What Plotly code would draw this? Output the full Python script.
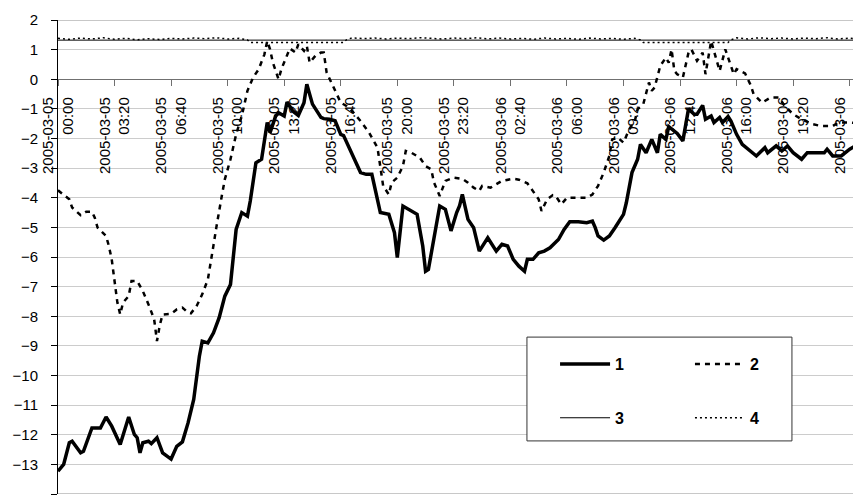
import pandas as pd
import plotly.graph_objects as go

start = pd.Timestamp("2005-03-05 00:00")

# Series 1 (thick solid): minutes from start, values
s1_min = [0,20,40,50,80,90,120,150,170,190,
          220,230,240,250,270,280,290,300,320,330,
          350,370,400,420,440,460,480,490,500,510,
          530,550,570,590,610,630,650,670,680,700,
          720,740,750,770,780,800,810,830,850,870,
          880,900,930,940,960,980,990,1000,1010,1030,
          1040,1070,1090,1110,1140,1170,1190,1200,1220,1240,
          1270,1290,1300,1310,1330,1350,1370,1390,1410,1420,
          1430,1450,1470,1490,1520,1550,1570,1590,1610,1630,
          1650,1660,1680,1700,1720,1740,1770,1790,1810,1840,
          1870,1890,1900,1910,1930,1950,1970,2000,2010,2030,
          2050,2060,2080,2100,2120,2130,2150,2160,2190,2210,
          2230,2250,2260,2280,2290,2310,2320,2340,2350,2370,
          2380,2400,2420,2450,2470,2500,2510,2540,2560,2580,
          2600,2630,2650,2680,2710,2720,2740,2770,2800,2820,
          2840]
s1_val = [-13.23,-13.0,-12.27,-12.22,-12.61,-12.56,-11.77,-11.77,-11.4,-11.71,
          -12.33,-12.05,-11.71,-11.4,-11.99,-12.1,-12.61,-12.27,-12.22,-12.3,
          -12.1,-12.61,-12.82,-12.39,-12.24,-11.6,-10.81,-10.02,-9.35,-8.84,
          -8.9,-8.56,-8.05,-7.32,-6.93,-5.07,-4.5,-4.62,-4.11,-2.82,
          -2.7,-1.46,-1.8,-1.24,-1.13,-1.24,-0.77,-1.07,-1.22,-0.79,
          -0.17,-0.84,-1.29,-1.33,-1.35,-1.4,-1.65,-1.86,-1.9,-2.3,
          -2.5,-3.15,-3.21,-3.21,-4.5,-4.56,-5.18,-6.02,-4.28,-4.39,
          -4.56,-5.63,-6.48,-6.42,-5.41,-4.28,-4.39,-5.12,-4.5,-4.28,
          -3.89,-4.73,-5.01,-5.8,-5.35,-5.8,-5.57,-5.63,-6.08,-6.31,
          -6.48,-6.08,-6.08,-5.86,-5.8,-5.69,-5.41,-5.07,-4.81,-4.81,
          -4.84,-4.79,-5.01,-5.29,-5.43,-5.29,-5.01,-4.56,-4.17,-3.15,
          -2.7,-2.2,-2.48,-2.03,-2.48,-1.86,-2.03,-1.6,-1.83,-2.08,
          -1.0,-1.18,-1.18,-0.88,-1.35,-1.24,-1.46,-1.29,-1.46,-1.26,
          -1.41,-1.86,-2.2,-2.42,-2.59,-2.31,-2.48,-2.25,-2.42,-2.25,
          -2.48,-2.7,-2.48,-2.48,-2.48,-2.36,-2.59,-2.59,-2.36,-2.25,
          -2.3]

# Series 2 (dashed)
s2_min = [0,20,40,50,80,100,120,130,140,170,
          180,190,200,210,220,230,250,260,280,300,
          320,340,350,360,370,400,420,440,460,470,
          490,510,530,540,550,560,570,580,590,610,
          630,650,670,690,710,730,740,750,760,780,
          790,810,820,840,850,870,880,890,910,930,
          940,950,970,980,1000,1020,1040,1070,1100,1130,
          1140,1150,1170,1180,1200,1220,1230,1250,1280,1300,
          1320,1330,1350,1370,1400,1430,1450,1470,1490,1500,
          1530,1550,1570,1610,1630,1660,1680,1700,1710,1730,
          1750,1760,1780,1800,1830,1870,1890,1910,1930,1950,
          1960,1980,2000,2020,2040,2050,2070,2090,2100,2110,
          2130,2150,2160,2170,2180,2190,2210,2230,2240,2260,
          2280,2290,2310,2340,2360,2390,2400,2430,2450,2460,
          2490,2520,2550,2570,2600,2630,2670,2700,2740,2760,
          2800,2840]
s2_val = [-3.75,-3.9,-4.05,-4.33,-4.59,-4.47,-4.47,-4.67,-5.01,-5.29,
          -5.63,-6.08,-6.76,-7.54,-7.94,-7.54,-7.32,-6.81,-6.81,-7.15,
          -7.6,-8.1,-8.84,-8.3,-7.94,-7.92,-7.77,-7.71,-7.88,-7.9,
          -7.66,-7.26,-6.76,-6.1,-5.6,-5.0,-4.4,-3.9,-3.38,-2.7,
          -1.86,-1.24,-0.39,0.06,0.34,0.84,1.29,1.01,0.56,0.0,
          0.34,0.79,1.04,0.9,1.18,0.96,1.13,0.56,0.79,0.9,
          0.9,0.23,-0.17,-0.39,-0.79,-0.9,-1.07,-1.41,-1.8,-2.31,
          -2.93,-3.6,-3.89,-3.49,-3.32,-2.93,-2.42,-2.48,-2.65,-2.93,
          -3.04,-3.49,-3.94,-3.43,-3.32,-3.36,-3.49,-3.66,-3.77,-3.6,
          -3.66,-3.55,-3.43,-3.36,-3.39,-3.51,-3.77,-4.05,-4.45,-4.05,
          -3.91,-3.94,-4.22,-4.0,-4.0,-4.0,-3.89,-3.6,-3.15,-2.59,
          -2.03,-1.97,-2.14,-1.69,-1.41,-1.01,-0.84,-0.11,-0.39,-0.28,
          0.45,0.73,0.56,1.01,0.28,0.17,0.06,0.9,1.01,0.62,
          0.9,0.17,1.29,0.28,1.01,0.17,0.34,0.2,-0.2,-0.5,
          -0.79,-0.62,-0.62,-0.9,-1.18,-1.35,-1.52,-1.58,-1.58,-1.46,
          -1.46,-1.5]

# Series 3 (thin solid)
s3_min = [0, 2840]
s3_val = [1.32, 1.32]

# Series 4 (dotted)
s4_min = [0,40,80,120,160,200,240,280,320,360,400,440,480,520,560,600,640,
          670,680,1010,1020,1040,
          1080,1120,1160,1200,1240,1280,1320,1360,1400,1440,1480,1520,1560,1600,
          1640,1680,1720,1760,1800,1840,1880,1920,1960,2000,2040,
          2060,2070,2370,2380,2400,
          2440,2480,2520,2560,2600,2640,2680,2720,2760,2800,2840]
s4_val = [1.38,1.35,1.39,1.36,1.40,1.35,1.38,1.33,1.37,1.34,1.38,1.36,1.39,1.37,1.40,1.36,1.38,
          1.33,1.24,1.24,1.33,1.40,
          1.37,1.39,1.36,1.39,1.37,1.40,1.38,1.36,1.39,1.37,1.40,1.36,1.39,1.36,
          1.38,1.35,1.39,1.36,1.38,1.35,1.39,1.36,1.38,1.35,1.38,
          1.33,1.24,1.24,1.33,1.40,
          1.36,1.40,1.37,1.39,1.36,1.39,1.37,1.40,1.36,1.39,1.35]

tick_minutes = [0,200,400,600,800,1000,1200,1400,1600,1800,2000,2200,2400,2600,2800]
tick_labels = ["2005-03-05<br>00:00","2005-03-05<br>03:20","2005-03-05<br>06:40",
               "2005-03-05<br>10:00","2005-03-05<br>13:20","2005-03-05<br>16:40",
               "2005-03-05<br>20:00","2005-03-05<br>23:20","2005-03-06<br>02:40",
               "2005-03-06<br>06:00","2005-03-06<br>09:20","2005-03-06<br>12:40",
               "2005-03-06<br>16:00","2005-03-06<br>19:20","2005-03-06<br>22:40"]
series_names = ["1", "2", "3", "4"]

assert len(s1_min) == len(s1_val)
assert len(s2_min) == len(s2_val)
assert len(s4_min) == len(s4_val)


def to_t(mins):
    return [start + pd.Timedelta(minutes=m) for m in mins]


FONT = "Liberation Sans, Arial, sans-serif"
fig = go.Figure()
fig.add_trace(go.Scatter(x=to_t(s3_min), y=s3_val, mode="lines", name=series_names[2],
                         line=dict(color="black", width=1), legend="legend",
                         legendgroup="b", legendrank=2))
fig.add_trace(go.Scatter(x=to_t(s4_min), y=s4_val, mode="lines", name=series_names[3],
                         line=dict(color="black", width=1.5, dash="2px,3px"), legend="legend2",
                         legendgroup="d", legendrank=2))
fig.add_trace(go.Scatter(x=to_t(s2_min), y=s2_val, mode="lines", name=series_names[1],
                         line=dict(color="black", width=2.5, dash="5px,5px"), legend="legend2",
                         legendgroup="c", legendrank=1))
fig.add_trace(go.Scatter(x=to_t(s1_min), y=s1_val, mode="lines", name=series_names[0],
                         line=dict(color="black", width=3.5), legend="legend",
                         legendgroup="a", legendrank=1))

leg_common = dict(bgcolor="rgba(0,0,0,0)", borderwidth=0, traceorder="grouped",
                  tracegroupgap=30, itemwidth=50,
                  font=dict(family=FONT, size=16, color="black", weight="bold"),
                  xanchor="left", yanchor="top")

# the page body has an 8px margin: the figure is sized to fill the remaining window
fig.update_layout(
    width=853, height=489,
    margin=dict(l=50, r=0, t=12, b=3),
    paper_bgcolor="white", plot_bgcolor="white",
    showlegend=True,
    legend=dict(x=0.619, y=0.31, **leg_common),
    legend2=dict(x=0.787, y=0.31, **leg_common),
    xaxis=dict(type="date", range=[start, start + pd.Timedelta(minutes=2840)],
               anchor="free", position=0.875, side="bottom",
               showline=True, linecolor="#707070", linewidth=1,
               ticks="outside", ticklen=6, tickcolor="#707070",
               tickvals=to_t(tick_minutes), ticktext=tick_labels, tickangle=-90,
               tickfont=dict(family=FONT, size=15, color="black"),
               ticklabelstandoff=5, ticklabeloverflow="allow",
               showgrid=False, zeroline=False, layer="below traces", automargin=False),
    yaxis=dict(range=[-14, 2], dtick=1, tick0=0,
               showline=True, linecolor="black", linewidth=1,
               ticks="outside", ticklen=6, tickcolor="black",
               tickfont=dict(family=FONT, size=15, color="black"),
               ticklabelstandoff=10,
               showgrid=True, gridcolor="#cccccc", gridwidth=1,
               zeroline=False, automargin=False),
    shapes=[
        dict(type="line", xref="paper", yref="y", x0=0, x1=1, y0=2, y1=2,
             line=dict(color="#909090", width=1), layer="below"),
        dict(type="line", xref="paper", yref="y", x0=0, x1=1, y0=-14, y1=-14,
             line=dict(color="#909090", width=1), layer="below"),
        dict(type="rect", xref="paper", yref="paper", x0=0.584, x1=0.914, y0=0.112, y1=0.331,
             line=dict(color="#333333", width=1), fillcolor="white", layer="above"),
    ],
)

fig.write_html("out.html")
